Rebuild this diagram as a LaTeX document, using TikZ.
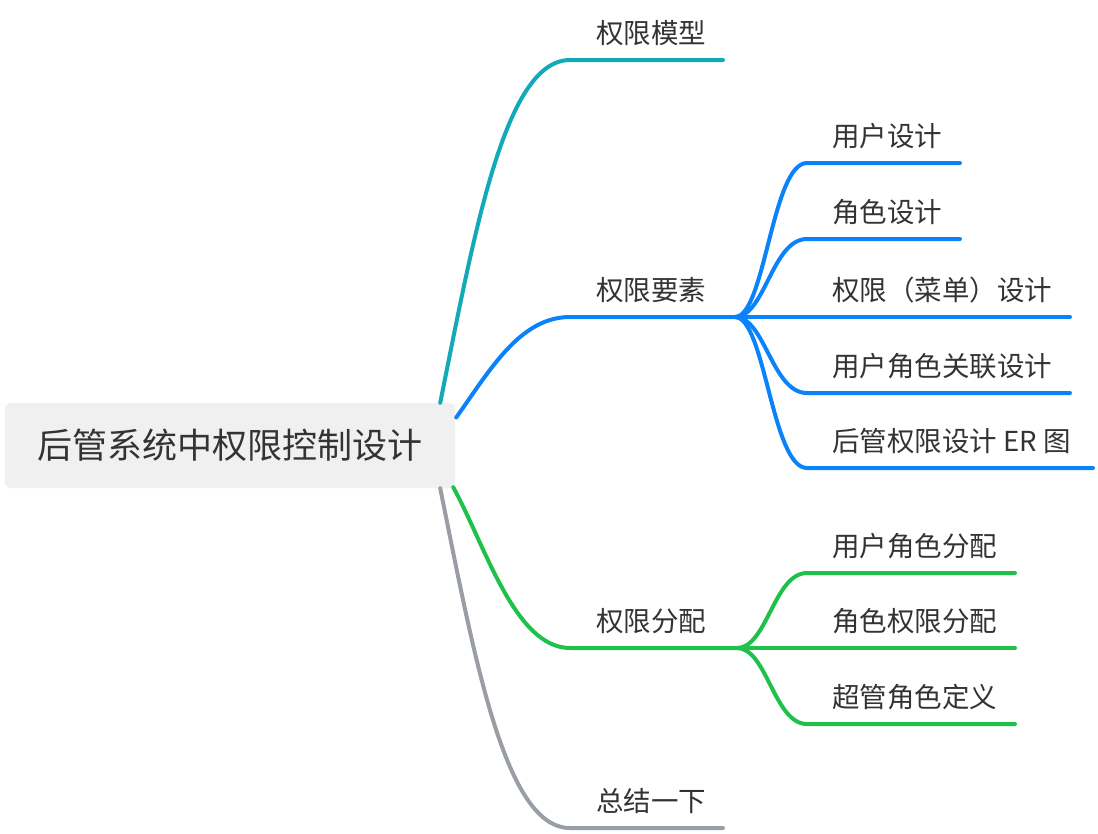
\documentclass[tikz,border=0pt]{standalone}
\usepackage{fontspec}
\newfontfamily\cjk{Noto Sans CJK SC}
\definecolor{cteal}{HTML}{12A9B9}
\definecolor{cblue}{HTML}{0A82FA}
\definecolor{cgreen}{HTML}{1FC14B}
\definecolor{cgray}{HTML}{999EA4}
\definecolor{ctext}{HTML}{333333}
\definecolor{cfill}{HTML}{F0F0F0}
\tikzset{
  rootbox/.style={fill=cfill, rounded corners=6pt, minimum width=450pt, minimum height=85pt, inner sep=0pt, text=ctext, font=\cjk\fontsize{35}{40}\selectfont},
  lbl/.style={anchor=base west, inner sep=0pt, text=ctext, font=\cjk\fontsize{27.5}{32}\selectfont},
  br/.style={line width=4pt, line cap=round, line join=round},
}
\begin{document}
\begin{tikzpicture}[x=1pt,y=-1pt]
\useasboundingbox (0,0) rectangle (1098,833);
\node[rootbox] (root) at (230,445.5) {后管系统中权限控制设计};
% start points at the root
\coordinate (s1) at ([xshift=-15pt]root.north east);
\coordinate (s2) at ([xshift=1pt,yshift=28pt]root.east);
\coordinate (s3) at ([xshift=-2pt,yshift=1pt]root.south east);
\coordinate (s4) at ([xshift=-15pt]root.south east);
% level-1 line starts / ends
\coordinate (a1) at (570,60);  \coordinate (e1) at (723,60);
\coordinate (a2) at (570,317); \coordinate (j2) at (735,317);
\coordinate (a3) at (570,648); \coordinate (j3) at (737,648);
\coordinate (a4) at (570,828); \coordinate (e4) at (723,828);
% level-1 labels
\node[lbl] (n1) at (596,43)  {权限模型};
\node[lbl] (n2) at (596,300) {权限要素};
\node[lbl] (n3) at (596,631) {权限分配};
\node[lbl] (n4) at (596,811) {总结一下};
% level-1 branches
\draw[br,cteal] (s1) .. controls (475,230) and (505,60) .. (a1) -- (e1);
\draw[br,cblue] (s2) .. controls (490,370) and (520,317) .. (a2) -- (j2);
\draw[br,cgreen] (s3) .. controls (485,545) and (515,648) .. (a3) -- (j3);
\draw[br,cgray] (s4) .. controls (475,660) and (505,828) .. (a4) -- (e4);
% blue children
\coordinate (b1s) at (807,163); \coordinate (b1e) at (960,163);
\coordinate (b2s) at (807,239); \coordinate (b2e) at (960,239);
\coordinate (b3e) at (1070,317);
\coordinate (b4s) at (807,393); \coordinate (b4e) at (1070,393);
\coordinate (b5s) at (807,468); \coordinate (b5e) at (1093,468);
\node[lbl] (c1) at (832,146) {用户设计};
\node[lbl] (c2) at (832,222) {角色设计};
\node[lbl] (c3) at (832,300) {权限（菜单）设计};
\node[lbl] (c4) at (832,376) {用户角色关联设计};
\node[lbl] (c5) at (832,451) {后管权限设计 ER 图};
\draw[br,cblue] (j2) .. controls (765,317) and (772,163) .. (b1s) -- (b1e);
\draw[br,cblue] (j2) .. controls (765,317) and (772,239) .. (b2s) -- (b2e);
\draw[br,cblue] (j2) -- (b3e);
\draw[br,cblue] (j2) .. controls (765,317) and (772,393) .. (b4s) -- (b4e);
\draw[br,cblue] (j2) .. controls (765,317) and (772,468) .. (b5s) -- (b5e);
% green children
\coordinate (g1s) at (807,573); \coordinate (g1e) at (1015,573);
\coordinate (g2e) at (1015,648);
\coordinate (g3s) at (807,724); \coordinate (g3e) at (1015,724);
\node[lbl] (d1) at (832,556) {用户角色分配};
\node[lbl] (d2) at (832,631) {角色权限分配};
\node[lbl] (d3) at (832,707) {超管角色定义};
\draw[br,cgreen] (j3) .. controls (767,648) and (774,573) .. (g1s) -- (g1e);
\draw[br,cgreen] (j3) -- (g2e);
\draw[br,cgreen] (j3) .. controls (767,648) and (774,724) .. (g3s) -- (g3e);
\end{tikzpicture}
\end{document}
